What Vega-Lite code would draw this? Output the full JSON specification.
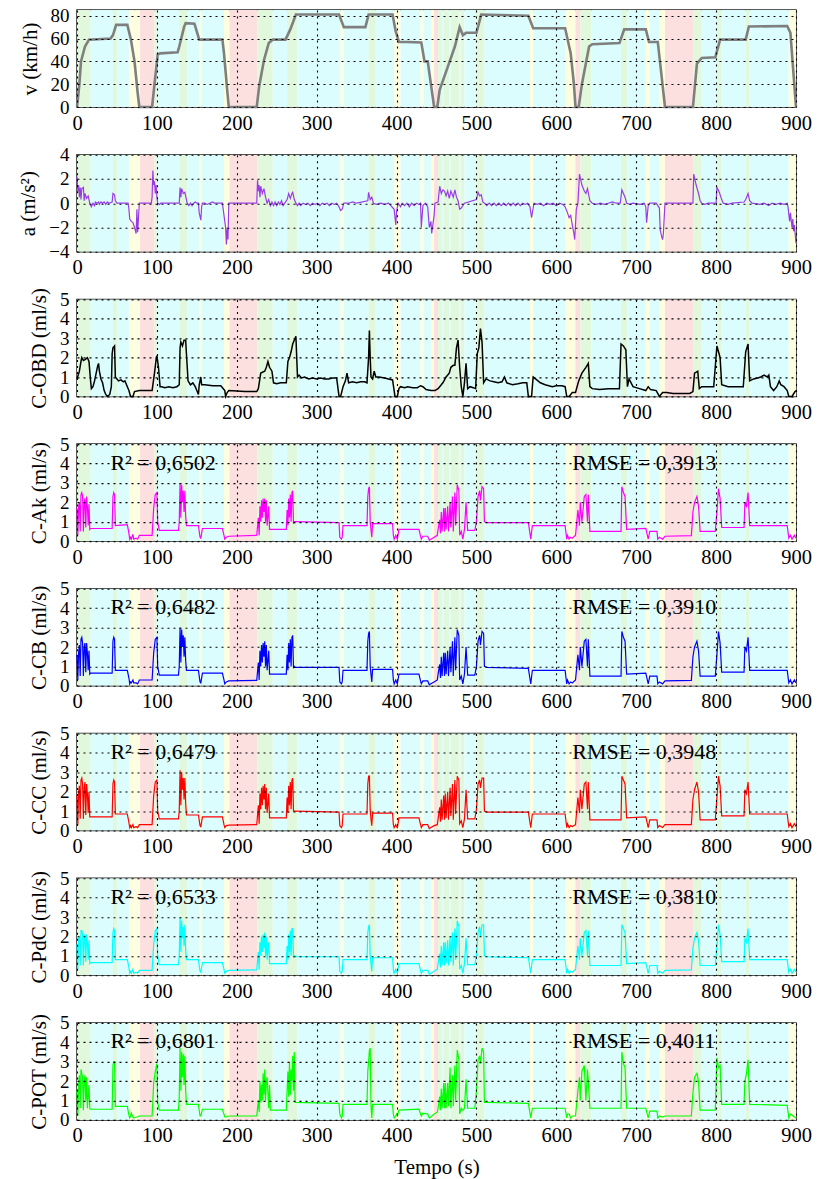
{
"$schema":"https://vega.github.io/schema/vega-lite/v6.json",
"padding":{"left":17,"top":5,"right":5,"bottom":5},
"background":"white",
"config":{
 "font":"Liberation Serif",
 "view":{"stroke":"#222","strokeWidth":1.5},
 "axis":{"labelFont":"Liberation Serif","labelFontSize":20.5,"labelColor":"#000","titleFont":"Liberation Serif","titleFontSize":21,"titleFontWeight":"normal","titleColor":"#000","grid":true,"gridColor":"#000","gridDash":[2,4],"gridOpacity":1,"gridWidth":1.1,"domain":false,"ticks":false,"zindex":1,"labelPadding":8,"titlePadding":10,"labelFlush":false,"labelOverlap":false},
 "axisX":{"labelPadding":6},
 "axisY":{"labelFontSize":19}
},
"bounds":"flush",
"spacing":47.7,
"datasets":{
"bands":[
{"t0":0,"t1":17,"m":"ac"},{"t0":17,"t1":45,"m":"cr"},{"t0":45,"t1":50,"m":"ac"},{"t0":50,"t1":65,"m":"cr"},{"t0":65,"t1":72,"m":"de"},{"t0":72,"t1":79,"m":"de"},{"t0":79,"t1":97,"m":"pa"},{"t0":97,"t1":100,"m":"ac"},{"t0":100,"t1":128,"m":"cr"},{"t0":128,"t1":138,"m":"ac"},{"t0":138,"t1":153,"m":"cr"},{"t0":153,"t1":156,"m":"de"},{"t0":156,"t1":184,"m":"cr"},{"t0":184,"t1":191,"m":"de"},{"t0":191,"t1":226,"m":"pa"},{"t0":226,"t1":245,"m":"ac"},{"t0":245,"t1":263,"m":"cr"},{"t0":263,"t1":276,"m":"ac"},{"t0":276,"t1":330,"m":"cr"},{"t0":330,"t1":334,"m":"de"},{"t0":334,"t1":365,"m":"cr"},{"t0":365,"t1":374,"m":"ac"},{"t0":374,"t1":397,"m":"cr"},{"t0":397,"t1":405,"m":"de"},{"t0":405,"t1":430,"m":"cr"},{"t0":430,"t1":434,"m":"de"},{"t0":434,"t1":443,"m":"cr"},{"t0":443,"t1":447,"m":"de"},{"t0":447,"t1":452,"m":"pa"},{"t0":452,"t1":457,"m":"ac"},{"t0":457,"t1":459,"m":"cr"},{"t0":459,"t1":466,"m":"ac"},{"t0":466,"t1":468,"m":"cr"},{"t0":468,"t1":478,"m":"ac"},{"t0":478,"t1":480,"m":"cr"},{"t0":480,"t1":485,"m":"ac"},{"t0":485,"t1":500,"m":"cr"},{"t0":500,"t1":510,"m":"ac"},{"t0":510,"t1":567,"m":"cr"},{"t0":567,"t1":571,"m":"de"},{"t0":571,"t1":611,"m":"cr"},{"t0":611,"t1":624,"m":"de"},{"t0":624,"t1":630,"m":"pa"},{"t0":630,"t1":644,"m":"ac"},{"t0":644,"t1":681,"m":"cr"},{"t0":681,"t1":689,"m":"ac"},{"t0":689,"t1":712,"m":"cr"},{"t0":712,"t1":717,"m":"de"},{"t0":717,"t1":729,"m":"cr"},{"t0":729,"t1":736,"m":"de"},{"t0":736,"t1":771,"m":"pa"},{"t0":771,"t1":782,"m":"ac"},{"t0":782,"t1":801,"m":"cr"},{"t0":801,"t1":807,"m":"ac"},{"t0":807,"t1":837,"m":"cr"},{"t0":837,"t1":842,"m":"ac"},{"t0":842,"t1":891,"m":"cr"},{"t0":891,"t1":900,"m":"de"}
],
"vel":[
{"t":0,"v":0},{"t":3,"v":20},{"t":5,"v":40},{"t":10,"v":53},{"t":15,"v":59},{"t":42,"v":60},{"t":45,"v":63},{"t":49,"v":72},{"t":63,"v":72},{"t":67.5,"v":59},{"t":72,"v":40},{"t":76,"v":12},{"t":78,"v":0},{"t":94,"v":0},{"t":97,"v":20},{"t":101,"v":46},{"t":104,"v":47},{"t":126,"v":48},{"t":128,"v":53},{"t":134,"v":70},{"t":136,"v":73.5},{"t":147,"v":73},{"t":153,"v":59},{"t":182,"v":59},{"t":184,"v":47},{"t":188,"v":15},{"t":190,"v":0},{"t":225,"v":0},{"t":228,"v":18},{"t":234,"v":41},{"t":240,"v":56},{"t":245,"v":59},{"t":261,"v":59},{"t":267,"v":68},{"t":274,"v":81},{"t":328,"v":81},{"t":334,"v":70},{"t":361,"v":70},{"t":365,"v":81},{"t":395,"v":81},{"t":399,"v":66},{"t":403,"v":57},{"t":414,"v":57},{"t":431,"v":56.5},{"t":435,"v":40},{"t":439,"v":40},{"t":443,"v":20},{"t":447,"v":0},{"t":451,"v":0},{"t":454,"v":15},{"t":464,"v":35},{"t":473,"v":53},{"t":479,"v":70},{"t":483,"v":63},{"t":487,"v":65},{"t":500,"v":65},{"t":506,"v":81},{"t":565,"v":80},{"t":571,"v":69},{"t":611,"v":69},{"t":618,"v":47},{"t":622,"v":20},{"t":624,"v":0},{"t":628,"v":0},{"t":632,"v":20},{"t":641,"v":53},{"t":645,"v":55},{"t":679,"v":56},{"t":685,"v":68},{"t":712,"v":68},{"t":716,"v":57},{"t":727,"v":57},{"t":736,"v":0},{"t":771,"v":0},{"t":776,"v":38},{"t":782,"v":43},{"t":799,"v":43.5},{"t":805,"v":59},{"t":837,"v":59},{"t":841,"v":70.5},{"t":889,"v":71},{"t":893,"v":65},{"t":900,"v":0}
],
"acc":[
{"t":0,"a":2.2},{"t":1,"a":1.0},{"t":2,"a":1.5},{"t":3,"a":0.5},{"t":4,"a":1.3},{"t":5,"a":0.3},{"t":6,"a":1.2},{"t":8,"a":1.3},{"t":9,"a":0.2},{"t":10,"a":0.8},{"t":12,"a":0.4},{"t":14,"a":0.6},{"t":16,"a":0},{"t":18,"a":-0.3},{"t":20,"a":0},{"t":22,"a":-0.2},{"t":23,"a":0.1},{"t":25,"a":0},{"t":27,"a":0.1},{"t":28,"a":-0.1},{"t":30,"a":0.1},{"t":32,"a":0},{"t":34,"a":0.1},{"t":36,"a":-0.1},{"t":38,"a":0.1},{"t":40,"a":0},{"t":44,"a":0.1},{"t":45,"a":0.8},{"t":47,"a":0.7},{"t":48,"a":0.2},{"t":50,"a":0},{"t":64,"a":0},{"t":65,"a":-0.5},{"t":66,"a":-1.3},{"t":68,"a":-1.5},{"t":70,"a":-1.6},{"t":72,"a":-2.0},{"t":74,"a":-2.5},{"t":75,"a":-0.5},{"t":76,"a":-2.4},{"t":78,"a":0},{"t":93,"a":0},{"t":94,"a":0.5},{"t":95,"a":2.7},{"t":96,"a":1.5},{"t":97,"a":1.8},{"t":98,"a":0.8},{"t":99,"a":1.5},{"t":100,"a":0.5},{"t":101,"a":0},{"t":103,"a":-0.1},{"t":105,"a":0},{"t":128,"a":0},{"t":129,"a":1.3},{"t":130,"a":0.5},{"t":131,"a":1.2},{"t":133,"a":0.8},{"t":135,"a":0.9},{"t":137,"a":0.3},{"t":138,"a":0},{"t":140,"a":-0.2},{"t":142,"a":0},{"t":144,"a":-0.2},{"t":146,"a":0},{"t":148,"a":0.1},{"t":150,"a":0},{"t":152,"a":0},{"t":153,"a":-0.8},{"t":155,"a":-1.4},{"t":156,"a":-0.3},{"t":157,"a":0},{"t":160,"a":0},{"t":163,"a":-0.1},{"t":166,"a":0},{"t":170,"a":0.1},{"t":172,"a":0},{"t":182,"a":0},{"t":183,"a":-0.5},{"t":185,"a":-1.5},{"t":186,"a":-2.0},{"t":187,"a":-3.4},{"t":188,"a":-2.0},{"t":189,"a":-3.0},{"t":190,"a":0},{"t":225,"a":0},{"t":226,"a":1.9},{"t":227,"a":1.0},{"t":228,"a":1.5},{"t":229,"a":0.5},{"t":230,"a":1.4},{"t":232,"a":0.8},{"t":234,"a":1.2},{"t":236,"a":0.5},{"t":238,"a":0},{"t":240,"a":0.3},{"t":242,"a":-0.2},{"t":244,"a":0.1},{"t":246,"a":-0.2},{"t":248,"a":0.1},{"t":250,"a":-0.2},{"t":252,"a":0.1},{"t":254,"a":-0.1},{"t":256,"a":0.2},{"t":258,"a":-0.2},{"t":260,"a":0},{"t":263,"a":0.3},{"t":265,"a":0.8},{"t":267,"a":0.4},{"t":269,"a":0.8},{"t":270,"a":0.9},{"t":272,"a":0.3},{"t":274,"a":0},{"t":276,"a":-0.2},{"t":278,"a":0},{"t":280,"a":-0.2},{"t":283,"a":0},{"t":286,"a":-0.1},{"t":289,"a":0},{"t":292,"a":-0.2},{"t":295,"a":0},{"t":298,"a":-0.1},{"t":301,"a":0},{"t":304,"a":-0.2},{"t":307,"a":0},{"t":310,"a":-0.1},{"t":313,"a":0},{"t":316,"a":-0.2},{"t":319,"a":0},{"t":322,"a":-0.1},{"t":325,"a":0},{"t":328,"a":-0.3},{"t":330,"a":-0.6},{"t":332,"a":-0.5},{"t":334,"a":0},{"t":340,"a":0},{"t":345,"a":0.1},{"t":350,"a":0},{"t":364,"a":0.2},{"t":365,"a":0.9},{"t":367,"a":0.3},{"t":369,"a":0.5},{"t":371,"a":0},{"t":375,"a":-0.1},{"t":380,"a":0},{"t":385,"a":-0.1},{"t":390,"a":0},{"t":397,"a":-0.5},{"t":399,"a":-1.8},{"t":400,"a":-0.7},{"t":402,"a":0},{"t":405,"a":-0.3},{"t":407,"a":0},{"t":410,"a":-0.2},{"t":413,"a":0},{"t":416,"a":-0.3},{"t":419,"a":0},{"t":422,"a":-0.2},{"t":425,"a":0},{"t":428,"a":-0.1},{"t":430,"a":0},{"t":431,"a":-2.0},{"t":433,"a":-0.2},{"t":436,"a":0},{"t":439,"a":-0.3},{"t":441,"a":-2.0},{"t":443,"a":-1.5},{"t":444,"a":-2.5},{"t":447,"a":-1.0},{"t":448,"a":0},{"t":452,"a":0.1},{"t":454,"a":1.4},{"t":456,"a":0.8},{"t":458,"a":1.1},{"t":460,"a":1.0},{"t":462,"a":0.6},{"t":464,"a":1.0},{"t":466,"a":0.4},{"t":468,"a":1.0},{"t":471,"a":0.5},{"t":473,"a":1.1},{"t":475,"a":0.5},{"t":477,"a":0.2},{"t":479,"a":-0.5},{"t":481,"a":-0.4},{"t":483,"a":-0.2},{"t":485,"a":0},{"t":500,"a":0.3},{"t":502,"a":0.9},{"t":504,"a":0.6},{"t":506,"a":0.7},{"t":508,"a":0.1},{"t":510,"a":0},{"t":513,"a":-0.2},{"t":516,"a":0},{"t":519,"a":-0.2},{"t":522,"a":0},{"t":525,"a":-0.2},{"t":528,"a":0},{"t":531,"a":-0.2},{"t":534,"a":0},{"t":537,"a":-0.2},{"t":540,"a":0},{"t":543,"a":-0.2},{"t":546,"a":0},{"t":549,"a":-0.2},{"t":552,"a":0},{"t":555,"a":-0.2},{"t":558,"a":0},{"t":561,"a":-0.1},{"t":564,"a":0},{"t":567,"a":-0.3},{"t":569,"a":-1.2},{"t":572,"a":0},{"t":576,"a":-0.1},{"t":580,"a":0},{"t":584,"a":-0.2},{"t":588,"a":0},{"t":592,"a":-0.1},{"t":596,"a":0},{"t":600,"a":-0.2},{"t":604,"a":0},{"t":608,"a":-0.1},{"t":611,"a":-0.3},{"t":614,"a":-0.8},{"t":616,"a":-1.2},{"t":618,"a":-1.0},{"t":620,"a":-1.8},{"t":622,"a":-2.5},{"t":623,"a":-3.0},{"t":625,"a":-0.5},{"t":627,"a":0},{"t":629,"a":2.4},{"t":632,"a":1.5},{"t":635,"a":1.0},{"t":637,"a":0.8},{"t":639,"a":1.2},{"t":642,"a":0.2},{"t":645,"a":0},{"t":650,"a":-0.1},{"t":655,"a":0},{"t":660,"a":-0.1},{"t":665,"a":0},{"t":670,"a":0.1},{"t":675,"a":0},{"t":680,"a":0},{"t":682,"a":1.1},{"t":684,"a":0.8},{"t":686,"a":0.5},{"t":688,"a":0},{"t":692,"a":-0.1},{"t":696,"a":0},{"t":705,"a":-0.1},{"t":710,"a":0},{"t":712,"a":-0.3},{"t":713,"a":-1.6},{"t":715,"a":-0.2},{"t":717,"a":0},{"t":725,"a":0},{"t":729,"a":-0.4},{"t":730,"a":-2.2},{"t":732,"a":-2.8},{"t":733,"a":-3.0},{"t":734,"a":-2.5},{"t":736,"a":0},{"t":771,"a":0},{"t":772,"a":2.4},{"t":775,"a":1.5},{"t":778,"a":0.8},{"t":780,"a":0.2},{"t":782,"a":0},{"t":786,"a":-0.1},{"t":790,"a":0},{"t":800,"a":0},{"t":801,"a":1.3},{"t":804,"a":0.9},{"t":807,"a":0.3},{"t":809,"a":0},{"t":815,"a":-0.1},{"t":820,"a":0},{"t":835,"a":0.1},{"t":837,"a":0.3},{"t":840,"a":0.8},{"t":842,"a":0.2},{"t":845,"a":0},{"t":855,"a":-0.1},{"t":860,"a":0},{"t":866,"a":-0.2},{"t":870,"a":0},{"t":875,"a":-0.1},{"t":880,"a":0},{"t":885,"a":-0.1},{"t":889,"a":0},{"t":890,"a":-0.3},{"t":892,"a":-1.5},{"t":893,"a":-0.8},{"t":895,"a":-2.0},{"t":896,"a":-1.3},{"t":897,"a":-2.3},{"t":898,"a":-1.8},{"t":900,"a":-3.3}
],
"obd":[
{"t":0,"c":0.9},{"t":3,"c":1.3},{"t":5,"c":1.8},{"t":6,"c":2.0},{"t":8,"c":1.85},{"t":10,"c":1.9},{"t":13,"c":2.0},{"t":15,"c":1.8},{"t":17,"c":0.8},{"t":18,"c":0.4},{"t":20,"c":0.5},{"t":22,"c":0.8},{"t":24,"c":1.2},{"t":26,"c":1.6},{"t":27,"c":1.7},{"t":28,"c":1.3},{"t":30,"c":0.9},{"t":32,"c":0.7},{"t":34,"c":0.3},{"t":36,"c":0.1},{"t":38,"c":0.0},{"t":41,"c":0.1},{"t":43,"c":0.5},{"t":44,"c":2.2},{"t":45,"c":2.5},{"t":47,"c":2.6},{"t":48,"c":1.0},{"t":50,"c":0.9},{"t":52,"c":0.8},{"t":55,"c":0.85},{"t":58,"c":0.75},{"t":60,"c":0.8},{"t":63,"c":0.5},{"t":65,"c":0.3},{"t":67,"c":0.0},{"t":70,"c":0.0},{"t":72,"c":0.25},{"t":78,"c":0.3},{"t":94,"c":0.3},{"t":97,"c":1.2},{"t":99,"c":1.9},{"t":100,"c":2.1},{"t":102,"c":1.5},{"t":104,"c":0.5},{"t":106,"c":0.5},{"t":110,"c":0.45},{"t":115,"c":0.5},{"t":120,"c":0.45},{"t":125,"c":0.5},{"t":128,"c":0.6},{"t":129,"c":2.5},{"t":130,"c":2.8},{"t":132,"c":2.6},{"t":134,"c":2.9},{"t":136,"c":2.9},{"t":138,"c":1.5},{"t":139,"c":0.8},{"t":142,"c":0.6},{"t":145,"c":0.7},{"t":148,"c":0.5},{"t":150,"c":0.3},{"t":152,"c":0.1},{"t":153,"c":0.6},{"t":155,"c":1.0},{"t":156,"c":0.6},{"t":160,"c":0.6},{"t":170,"c":0.55},{"t":180,"c":0.55},{"t":185,"c":0.3},{"t":186,"c":0.0},{"t":188,"c":0.2},{"t":190,"c":0.3},{"t":200,"c":0.28},{"t":210,"c":0.25},{"t":225,"c":0.25},{"t":227,"c":0.4},{"t":230,"c":1.2},{"t":235,"c":1.3},{"t":237,"c":1.5},{"t":239,"c":1.8},{"t":241,"c":1.5},{"t":244,"c":1.3},{"t":246,"c":0.7},{"t":250,"c":0.65},{"t":255,"c":0.7},{"t":262,"c":0.7},{"t":264,"c":1.8},{"t":266,"c":2.0},{"t":268,"c":2.3},{"t":270,"c":2.7},{"t":273,"c":3.0},{"t":274,"c":3.1},{"t":276,"c":1.0},{"t":278,"c":1.1},{"t":281,"c":0.95},{"t":285,"c":1.0},{"t":290,"c":0.9},{"t":295,"c":0.95},{"t":300,"c":0.9},{"t":305,"c":0.95},{"t":310,"c":0.9},{"t":315,"c":0.9},{"t":320,"c":0.95},{"t":325,"c":0.95},{"t":328,"c":0.0},{"t":330,"c":0.0},{"t":333,"c":0.5},{"t":336,"c":0.8},{"t":338,"c":1.2},{"t":340,"c":0.7},{"t":345,"c":0.75},{"t":350,"c":0.7},{"t":355,"c":0.75},{"t":360,"c":0.75},{"t":363,"c":0.7},{"t":365,"c":2.0},{"t":366,"c":3.4},{"t":367,"c":2.0},{"t":368,"c":1.0},{"t":370,"c":0.9},{"t":372,"c":1.3},{"t":374,"c":1.0},{"t":378,"c":1.0},{"t":385,"c":0.95},{"t":390,"c":0.9},{"t":395,"c":0.85},{"t":397,"c":0.3},{"t":398,"c":0.0},{"t":401,"c":0.0},{"t":403,"c":0.4},{"t":405,"c":0.5},{"t":410,"c":0.45},{"t":414,"c":0.5},{"t":420,"c":0.45},{"t":426,"c":0.45},{"t":430,"c":0.55},{"t":433,"c":0.5},{"t":437,"c":0.35},{"t":443,"c":0.3},{"t":448,"c":0.3},{"t":452,"c":0.4},{"t":456,"c":0.6},{"t":458,"c":0.7},{"t":462,"c":1.0},{"t":466,"c":1.2},{"t":468,"c":1.5},{"t":471,"c":1.6},{"t":473,"c":1.6},{"t":475,"c":2.5},{"t":477,"c":2.9},{"t":479,"c":1.5},{"t":481,"c":0.5},{"t":483,"c":0.0},{"t":485,"c":0.7},{"t":487,"c":1.7},{"t":489,"c":0.4},{"t":492,"c":0.5},{"t":496,"c":0.45},{"t":499,"c":0.4},{"t":501,"c":2.2},{"t":503,"c":2.5},{"t":505,"c":3.5},{"t":507,"c":2.8},{"t":509,"c":0.7},{"t":512,"c":0.9},{"t":517,"c":0.8},{"t":522,"c":0.75},{"t":527,"c":0.7},{"t":532,"c":0.75},{"t":535,"c":1.0},{"t":538,"c":0.7},{"t":545,"c":0.6},{"t":552,"c":0.65},{"t":558,"c":0.7},{"t":563,"c":0.7},{"t":565,"c":0.0},{"t":569,"c":0.0},{"t":571,"c":1.0},{"t":574,"c":0.9},{"t":580,"c":0.7},{"t":586,"c":0.6},{"t":595,"c":0.5},{"t":600,"c":0.55},{"t":607,"c":0.55},{"t":611,"c":0.5},{"t":613,"c":0.0},{"t":616,"c":0.0},{"t":620,"c":0.2},{"t":624,"c":0.2},{"t":628,"c":0.8},{"t":632,"c":1.2},{"t":637,"c":1.5},{"t":640,"c":1.7},{"t":642,"c":0.5},{"t":645,"c":0.4},{"t":654,"c":0.35},{"t":665,"c":0.4},{"t":679,"c":0.4},{"t":681,"c":2.7},{"t":684,"c":2.6},{"t":687,"c":2.4},{"t":689,"c":0.5},{"t":691,"c":0.9},{"t":696,"c":0.5},{"t":704,"c":0.4},{"t":712,"c":0.3},{"t":715,"c":0.5},{"t":718,"c":0.35},{"t":725,"c":0.3},{"t":729,"c":0.0},{"t":733,"c":0.2},{"t":738,"c":0.2},{"t":746,"c":0.15},{"t":760,"c":0.15},{"t":767,"c":0.15},{"t":771,"c":0.25},{"t":773,"c":1.2},{"t":777,"c":1.3},{"t":779,"c":0.4},{"t":782,"c":0.5},{"t":790,"c":0.5},{"t":797,"c":0.5},{"t":801,"c":2.6},{"t":803,"c":2.3},{"t":805,"c":2.0},{"t":807,"c":0.6},{"t":815,"c":0.5},{"t":822,"c":0.5},{"t":830,"c":0.5},{"t":834,"c":0.5},{"t":837,"c":2.3},{"t":840,"c":2.7},{"t":842,"c":0.8},{"t":847,"c":0.9},{"t":852,"c":0.95},{"t":856,"c":1.0},{"t":860,"c":1.1},{"t":864,"c":1.0},{"t":866,"c":1.1},{"t":868,"c":0.5},{"t":872,"c":0.3},{"t":876,"c":0.5},{"t":879,"c":0.8},{"t":881,"c":0.6},{"t":885,"c":0.5},{"t":889,"c":0.3},{"t":891,"c":0.0},{"t":895,"c":0.0},{"t":898,"c":0.2},{"t":900,"c":0.3}
],
"mod":[
{"t":0,"ak":1.7,"cb":1.6,"cc":1.8,"pdc":1.6,"pot":1.5},
{"t":1,"ak":0.3,"cb":0.3,"cc":0.3,"pdc":0.3,"pot":0.2},
{"t":2,"ak":1.8,"cb":1.7,"cc":2.0,"pdc":1.9,"pot":1.8},
{"t":3,"ak":2.0,"cb":2.1,"cc":2.3,"pdc":2.0,"pot":2.3},
{"t":4,"ak":0.5,"cb":0.5,"cc":0.6,"pdc":0.5,"pot":0.6},
{"t":5,"ak":2.4,"cb":2.4,"cc":2.6,"pdc":2.3,"pot":2.6},
{"t":6,"ak":2.5,"cb":2.5,"cc":2.7,"pdc":2.3,"pot":2.4},
{"t":7,"ak":2.3,"cb":2.2,"cc":2.4,"pdc":2.1,"pot":2.2},
{"t":8,"ak":0.5,"cb":0.5,"cc":0.6,"pdc":0.5,"pot":0.5},
{"t":9,"ak":2.0,"cb":2.0,"cc":2.2,"pdc":1.9,"pot":2.0},
{"t":10,"ak":2.2,"cb":2.2,"cc":2.5,"pdc":2.1,"pot":2.3},
{"t":11,"ak":0.7,"cb":0.7,"cc":0.8,"pdc":0.7,"pot":1.0},
{"t":12,"ak":2.3,"cb":2.2,"cc":2.4,"pdc":2.1,"pot":2.2},
{"t":13,"ak":1.8,"cb":1.7,"cc":1.9,"pdc":1.7,"pot":0.6},
{"t":14,"ak":0.8,"cb":0.8,"cc":0.9,"pdc":0.8,"pot":1.2},
{"t":15,"ak":1.9,"cb":1.8,"cc":2.0,"pdc":1.8,"pot":1.8},
{"t":16,"ak":0.6,"cb":0.6,"cc":0.7,"pdc":0.6,"pot":0.6},
{"t":17,"ak":0.65,"cb":0.65,"cc":0.7,"pdc":0.65,"pot":0.55},
{"t":44,"ak":0.65,"cb":0.65,"cc":0.7,"pdc":0.65,"pot":0.55},
{"t":45,"ak":2.3,"cb":2.3,"cc":2.4,"pdc":2.2,"pot":2.8},
{"t":46,"ak":2.5,"cb":2.5,"cc":2.6,"pdc":2.4,"pot":3.0},
{"t":47,"ak":2.4,"cb":2.4,"cc":2.5,"pdc":2.3,"pot":3.0},
{"t":48,"ak":0.8,"cb":0.8,"cc":0.85,"pdc":0.8,"pot":0.7},
{"t":63,"ak":0.85,"cb":0.8,"cc":0.85,"pdc":0.8,"pot":0.7},
{"t":65,"ak":0.4,"cb":0.4,"cc":0.4,"pdc":0.4,"pot":0.25},
{"t":66,"ak":0.1,"cb":0.1,"cc":0.15,"pdc":0.1,"pot":0.1},
{"t":67,"ak":0.2,"cb":0.2,"cc":0.25,"pdc":0.2,"pot":0.2},
{"t":68,"ak":0.1,"cb":0.15,"cc":0.15,"pdc":0.1,"pot":0.35},
{"t":70,"ak":0.35,"cb":0.3,"cc":0.3,"pdc":0.3,"pot":0.15},
{"t":71,"ak":0.1,"cb":0.15,"cc":0.15,"pdc":0.1,"pot":0.1},
{"t":74,"ak":0.15,"cb":0.15,"cc":0.2,"pdc":0.15,"pot":0.15},
{"t":76,"ak":0.1,"cb":0.1,"cc":0.15,"pdc":0.1,"pot":0.15},
{"t":78,"ak":0.3,"cb":0.3,"cc":0.3,"pdc":0.25,"pot":0.2},
{"t":94,"ak":0.3,"cb":0.3,"cc":0.3,"pdc":0.25,"pot":0.2},
{"t":96,"ak":1.7,"cb":1.7,"cc":1.8,"pdc":1.6,"pot":1.9},
{"t":98,"ak":2.4,"cb":2.4,"cc":2.5,"pdc":2.3,"pot":2.5},
{"t":100,"ak":2.5,"cb":2.5,"cc":2.6,"pdc":2.4,"pot":2.9},
{"t":101,"ak":1.0,"cb":1.0,"cc":1.0,"pdc":1.0,"pot":0.9},
{"t":103,"ak":0.55,"cb":0.55,"cc":0.6,"pdc":0.55,"pot":0.5},
{"t":127,"ak":0.55,"cb":0.55,"cc":0.6,"pdc":0.55,"pot":0.5},
{"t":128,"ak":1.0,"cb":1.0,"cc":1.0,"pdc":1.0,"pot":1.2},
{"t":129,"ak":3.0,"cb":3.0,"cc":3.1,"pdc":3.0,"pot":3.7},
{"t":130,"ak":1.2,"cb":1.2,"cc":1.3,"pdc":1.2,"pot":1.5},
{"t":131,"ak":2.9,"cb":2.9,"cc":3.0,"pdc":2.8,"pot":3.5},
{"t":132,"ak":2.0,"cb":2.0,"cc":2.1,"pdc":1.9,"pot":2.2},
{"t":133,"ak":2.6,"cb":2.6,"cc":2.7,"pdc":2.5,"pot":3.4},
{"t":134,"ak":1.5,"cb":1.5,"cc":1.6,"pdc":1.5,"pot":1.8},
{"t":135,"ak":2.6,"cb":2.5,"cc":2.7,"pdc":2.6,"pot":3.3},
{"t":136,"ak":1.3,"cb":1.3,"cc":1.4,"pdc":1.3,"pot":1.5},
{"t":137,"ak":0.8,"cb":0.8,"cc":0.8,"pdc":0.8,"pot":0.8},
{"t":152,"ak":0.8,"cb":0.8,"cc":0.8,"pdc":0.8,"pot":0.8},
{"t":154,"ak":0.2,"cb":0.2,"cc":0.25,"pdc":0.2,"pot":0.2},
{"t":155,"ak":0.15,"cb":0.15,"cc":0.2,"pdc":0.15,"pot":0.2},
{"t":157,"ak":0.65,"cb":0.65,"cc":0.7,"pdc":0.65,"pot":0.55},
{"t":182,"ak":0.65,"cb":0.65,"cc":0.7,"pdc":0.65,"pot":0.55},
{"t":184,"ak":0.3,"cb":0.3,"cc":0.3,"pdc":0.3,"pot":0.3},
{"t":185,"ak":0.1,"cb":0.1,"cc":0.15,"pdc":0.1,"pot":0.15},
{"t":187,"ak":0.2,"cb":0.2,"cc":0.25,"pdc":0.2,"pot":0.15},
{"t":190,"ak":0.25,"cb":0.25,"cc":0.28,"pdc":0.25,"pot":0.2},
{"t":225,"ak":0.3,"cb":0.28,"cc":0.3,"pdc":0.27,"pot":0.2},
{"t":227,"ak":1.2,"cb":1.2,"cc":1.3,"pdc":1.2,"pot":1.0},
{"t":228,"ak":0.3,"cb":0.3,"cc":0.35,"pdc":0.3,"pot":0.4},
{"t":229,"ak":1.8,"cb":1.8,"cc":1.9,"pdc":1.7,"pot":2.0},
{"t":230,"ak":1.0,"cb":1.0,"cc":1.1,"pdc":1.0,"pot":0.9},
{"t":231,"ak":2.1,"cb":2.1,"cc":2.2,"pdc":2.0,"pot":1.8},
{"t":232,"ak":1.2,"cb":1.2,"cc":1.3,"pdc":1.2,"pot":1.0},
{"t":233,"ak":2.2,"cb":2.2,"cc":2.3,"pdc":2.1,"pot":2.4},
{"t":234,"ak":1.5,"cb":1.5,"cc":1.6,"pdc":1.4,"pot":1.3},
{"t":235,"ak":2.2,"cb":2.3,"cc":2.4,"pdc":2.2,"pot":2.6},
{"t":236,"ak":1.0,"cb":1.0,"cc":1.1,"pdc":1.0,"pot":1.0},
{"t":237,"ak":2.1,"cb":2.1,"cc":2.2,"pdc":2.0,"pot":2.0},
{"t":238,"ak":0.8,"cb":0.8,"cc":0.9,"pdc":0.8,"pot":2.2},
{"t":240,"ak":1.8,"cb":1.8,"cc":1.9,"pdc":1.7,"pot":0.6},
{"t":241,"ak":0.6,"cb":0.6,"cc":0.65,"pdc":0.6,"pot":1.8},
{"t":242,"ak":0.6,"cb":0.6,"cc":0.65,"pdc":0.6,"pot":0.5},
{"t":262,"ak":0.6,"cb":0.6,"cc":0.65,"pdc":0.6,"pot":0.5},
{"t":263,"ak":1.6,"cb":1.6,"cc":1.7,"pdc":1.5,"pot":1.5},
{"t":264,"ak":0.8,"cb":0.8,"cc":0.9,"pdc":0.8,"pot":2.5},
{"t":265,"ak":2.2,"cb":2.2,"cc":2.3,"pdc":2.1,"pot":1.2},
{"t":266,"ak":1.2,"cb":1.2,"cc":1.3,"pdc":1.2,"pot":3.0},
{"t":267,"ak":2.4,"cb":2.4,"cc":2.5,"pdc":2.3,"pot":1.3},
{"t":268,"ak":1.0,"cb":1.0,"cc":1.1,"pdc":1.0,"pot":2.6},
{"t":269,"ak":2.5,"cb":2.5,"cc":2.6,"pdc":2.4,"pot":2.0},
{"t":270,"ak":2.6,"cb":2.6,"cc":2.7,"pdc":2.4,"pot":3.3},
{"t":271,"ak":0.9,"cb":0.9,"cc":1.0,"pdc":0.9,"pot":1.5},
{"t":272,"ak":1.0,"cb":1.0,"cc":1.0,"pdc":1.0,"pot":3.5},
{"t":273,"ak":1.0,"cb":0.95,"cc":1.0,"pdc":0.95,"pot":0.9},
{"t":328,"ak":0.95,"cb":0.95,"cc":0.95,"pdc":0.95,"pot":0.85},
{"t":329,"ak":0.2,"cb":0.2,"cc":0.25,"pdc":0.2,"pot":0.3},
{"t":331,"ak":0.1,"cb":0.1,"cc":0.15,"pdc":0.1,"pot":0.1},
{"t":332,"ak":0.2,"cb":0.2,"cc":0.25,"pdc":0.2,"pot":0.2},
{"t":333,"ak":0.8,"cb":0.8,"cc":0.85,"pdc":0.8,"pot":0.8},
{"t":363,"ak":0.8,"cb":0.8,"cc":0.85,"pdc":0.8,"pot":0.8},
{"t":364,"ak":2.3,"cb":2.3,"cc":2.4,"pdc":2.2,"pot":2.5},
{"t":365,"ak":2.7,"cb":2.7,"cc":2.8,"pdc":2.5,"pot":3.0},
{"t":366,"ak":2.8,"cb":2.8,"cc":2.8,"pdc":2.6,"pot":3.6},
{"t":367,"ak":1.0,"cb":1.0,"cc":1.1,"pdc":1.0,"pot":3.7},
{"t":368,"ak":0.6,"cb":0.6,"cc":0.6,"pdc":0.6,"pot":0.8},
{"t":369,"ak":0.2,"cb":0.2,"cc":0.25,"pdc":0.2,"pot":0.1},
{"t":370,"ak":0.9,"cb":0.85,"cc":0.9,"pdc":0.9,"pot":0.8},
{"t":395,"ak":0.9,"cb":0.85,"cc":0.9,"pdc":0.9,"pot":0.8},
{"t":396,"ak":0.3,"cb":0.3,"cc":0.3,"pdc":0.3,"pot":0.3},
{"t":397,"ak":0.1,"cb":0.1,"cc":0.15,"pdc":0.1,"pot":0.1},
{"t":399,"ak":0.3,"cb":0.3,"cc":0.3,"pdc":0.3,"pot":0.2},
{"t":400,"ak":0.2,"cb":0.2,"cc":0.2,"pdc":0.2,"pot":0.3},
{"t":401,"ak":0.1,"cb":0.1,"cc":0.15,"pdc":0.1,"pot":0.2},
{"t":403,"ak":0.6,"cb":0.6,"cc":0.65,"pdc":0.6,"pot":0.5},
{"t":428,"ak":0.6,"cb":0.6,"cc":0.65,"pdc":0.6,"pot":0.55},
{"t":431,"ak":0.1,"cb":0.1,"cc":0.15,"pdc":0.1,"pot":0.2},
{"t":433,"ak":0.25,"cb":0.25,"cc":0.3,"pdc":0.25,"pot":0.35},
{"t":439,"ak":0.25,"cb":0.25,"cc":0.3,"pdc":0.25,"pot":0.3},
{"t":441,"ak":0.05,"cb":0.05,"cc":0.1,"pdc":0.05,"pot":0.1},
{"t":443,"ak":0.1,"cb":0.1,"cc":0.15,"pdc":0.1,"pot":0.15},
{"t":447,"ak":0.2,"cb":0.2,"cc":0.25,"pdc":0.2,"pot":0.3},
{"t":451,"ak":0.3,"cb":0.3,"cc":0.3,"pdc":0.3,"pot":0.4},
{"t":452,"ak":0.6,"cb":0.6,"cc":0.6,"pdc":0.6,"pot":0.6},
{"t":454,"ak":1.1,"cb":1.1,"cc":1.2,"pdc":1.1,"pot":1.2},
{"t":455,"ak":0.4,"cb":0.4,"cc":0.45,"pdc":0.4,"pot":0.5},
{"t":456,"ak":1.5,"cb":1.5,"cc":1.6,"pdc":1.5,"pot":1.6},
{"t":457,"ak":0.5,"cb":0.5,"cc":0.55,"pdc":0.5,"pot":0.6},
{"t":459,"ak":1.7,"cb":1.7,"cc":1.8,"pdc":1.7,"pot":1.9},
{"t":460,"ak":0.5,"cb":0.5,"cc":0.55,"pdc":0.5,"pot":0.6},
{"t":461,"ak":1.7,"cb":1.7,"cc":1.9,"pdc":1.7,"pot":1.9},
{"t":462,"ak":0.6,"cb":0.6,"cc":0.65,"pdc":0.6,"pot":0.6},
{"t":464,"ak":1.8,"cb":1.8,"cc":2.0,"pdc":1.8,"pot":1.9},
{"t":465,"ak":0.5,"cb":0.5,"cc":0.55,"pdc":0.5,"pot":0.7},
{"t":467,"ak":2.0,"cb":2.0,"cc":2.2,"pdc":2.0,"pot":2.7},
{"t":468,"ak":0.7,"cb":0.7,"cc":0.75,"pdc":0.7,"pot":0.6},
{"t":470,"ak":2.3,"cb":2.3,"cc":2.4,"pdc":2.2,"pot":2.3},
{"t":471,"ak":0.5,"cb":0.5,"cc":0.55,"pdc":0.5,"pot":0.7},
{"t":473,"ak":2.5,"cb":2.5,"cc":2.6,"pdc":2.4,"pot":2.8},
{"t":474,"ak":0.8,"cb":0.8,"cc":0.85,"pdc":0.8,"pot":1.0},
{"t":476,"ak":2.9,"cb":2.9,"cc":2.8,"pdc":2.8,"pot":3.6},
{"t":478,"ak":2.6,"cb":2.6,"cc":2.6,"pdc":2.5,"pot":3.1},
{"t":479,"ak":0.3,"cb":0.3,"cc":0.35,"pdc":0.3,"pot":0.3},
{"t":481,"ak":0.5,"cb":0.5,"cc":0.5,"pdc":0.5,"pot":0.6},
{"t":483,"ak":0.1,"cb":0.1,"cc":0.15,"pdc":0.1,"pot":0.5},
{"t":485,"ak":0.6,"cb":0.6,"cc":0.6,"pdc":0.6,"pot":0.6},
{"t":487,"ak":2.0,"cb":2.0,"cc":2.1,"pdc":1.9,"pot":2.1},
{"t":489,"ak":0.55,"cb":0.55,"cc":0.6,"pdc":0.55,"pot":0.6},
{"t":498,"ak":0.55,"cb":0.55,"cc":0.6,"pdc":0.55,"pot":0.6},
{"t":500,"ak":1.0,"cb":1.0,"cc":1.1,"pdc":1.0,"pot":1.5},
{"t":502,"ak":2.3,"cb":2.3,"cc":2.4,"pdc":2.2,"pot":3.1},
{"t":504,"ak":2.6,"cb":2.6,"cc":2.6,"pdc":2.5,"pot":3.3},
{"t":505,"ak":2.1,"cb":2.1,"cc":2.2,"pdc":2.0,"pot":2.9},
{"t":507,"ak":2.8,"cb":2.8,"cc":2.7,"pdc":2.6,"pot":3.7},
{"t":509,"ak":2.7,"cb":2.7,"cc":2.7,"pdc":2.6,"pot":3.5},
{"t":510,"ak":1.0,"cb":1.0,"cc":1.0,"pdc":1.0,"pot":0.9},
{"t":513,"ak":0.95,"cb":0.95,"cc":0.95,"pdc":0.95,"pot":0.9},
{"t":565,"ak":0.95,"cb":0.9,"cc":0.95,"pdc":0.9,"pot":0.85},
{"t":568,"ak":0.1,"cb":0.1,"cc":0.15,"pdc":0.1,"pot":0.1},
{"t":570,"ak":0.8,"cb":0.8,"cc":0.85,"pdc":0.8,"pot":0.6},
{"t":611,"ak":0.8,"cb":0.8,"cc":0.85,"pdc":0.8,"pot":0.6},
{"t":613,"ak":0.1,"cb":0.1,"cc":0.15,"pdc":0.1,"pot":0.1},
{"t":614,"ak":0.3,"cb":0.3,"cc":0.35,"pdc":0.3,"pot":0.3},
{"t":616,"ak":0.1,"cb":0.1,"cc":0.15,"pdc":0.1,"pot":0.3},
{"t":618,"ak":0.2,"cb":0.2,"cc":0.25,"pdc":0.2,"pot":0.1},
{"t":620,"ak":0.15,"cb":0.15,"cc":0.2,"pdc":0.15,"pot":0.2},
{"t":624,"ak":0.3,"cb":0.3,"cc":0.3,"pdc":0.3,"pot":0.2},
{"t":627,"ak":1.6,"cb":1.6,"cc":1.7,"pdc":1.5,"pot":1.5},
{"t":629,"ak":0.8,"cb":0.8,"cc":0.9,"pdc":0.8,"pot":2.2},
{"t":630,"ak":2.0,"cb":2.0,"cc":2.1,"pdc":1.9,"pot":1.0},
{"t":632,"ak":1.0,"cb":1.0,"cc":1.1,"pdc":1.0,"pot":2.5},
{"t":635,"ak":2.3,"cb":2.3,"cc":2.4,"pdc":2.2,"pot":2.8},
{"t":637,"ak":2.4,"cb":2.4,"cc":2.5,"pdc":2.3,"pot":1.0},
{"t":639,"ak":1.0,"cb":1.0,"cc":1.1,"pdc":1.0,"pot":2.6},
{"t":640,"ak":2.4,"cb":2.4,"cc":2.5,"pdc":2.3,"pot":2.0},
{"t":642,"ak":0.5,"cb":0.5,"cc":0.55,"pdc":0.5,"pot":0.6},
{"t":681,"ak":0.5,"cb":0.5,"cc":0.55,"pdc":0.5,"pot":0.6},
{"t":682,"ak":2.8,"cb":2.8,"cc":2.8,"pdc":2.6,"pot":3.5},
{"t":684,"ak":2.5,"cb":2.5,"cc":2.6,"pdc":2.4,"pot":2.9},
{"t":686,"ak":2.3,"cb":2.3,"cc":2.4,"pdc":2.2,"pot":2.7},
{"t":688,"ak":0.6,"cb":0.6,"cc":0.65,"pdc":0.6,"pot":0.6},
{"t":712,"ak":0.65,"cb":0.65,"cc":0.7,"pdc":0.65,"pot":0.6},
{"t":715,"ak":0.1,"cb":0.1,"cc":0.15,"pdc":0.1,"pot":0.1},
{"t":717,"ak":0.5,"cb":0.5,"cc":0.55,"pdc":0.5,"pot":0.45},
{"t":726,"ak":0.5,"cb":0.5,"cc":0.55,"pdc":0.5,"pot":0.45},
{"t":727,"ak":0.1,"cb":0.1,"cc":0.15,"pdc":0.1,"pot":0.1},
{"t":729,"ak":0.2,"cb":0.2,"cc":0.25,"pdc":0.2,"pot":0.2},
{"t":733,"ak":0.1,"cb":0.1,"cc":0.15,"pdc":0.1,"pot":0.15},
{"t":736,"ak":0.25,"cb":0.25,"cc":0.3,"pdc":0.25,"pot":0.2},
{"t":769,"ak":0.28,"cb":0.28,"cc":0.3,"pdc":0.27,"pot":0.2},
{"t":771,"ak":1.5,"cb":1.5,"cc":1.6,"pdc":1.4,"pot":1.4},
{"t":773,"ak":2.0,"cb":2.0,"cc":2.1,"pdc":1.9,"pot":2.2},
{"t":776,"ak":2.3,"cb":2.3,"cc":2.5,"pdc":2.2,"pot":2.4},
{"t":778,"ak":1.8,"cb":1.8,"cc":2.0,"pdc":1.8,"pot":2.0},
{"t":780,"ak":0.5,"cb":0.5,"cc":0.55,"pdc":0.5,"pot":0.5},
{"t":799,"ak":0.5,"cb":0.5,"cc":0.55,"pdc":0.5,"pot":0.5},
{"t":801,"ak":1.5,"cb":1.6,"cc":1.7,"pdc":1.5,"pot":3.2},
{"t":803,"ak":2.7,"cb":2.8,"cc":2.8,"pdc":2.6,"pot":2.7},
{"t":805,"ak":2.2,"cb":2.2,"cc":2.3,"pdc":2.1,"pot":2.8},
{"t":807,"ak":0.7,"cb":0.7,"cc":0.75,"pdc":0.7,"pot":0.8},
{"t":835,"ak":0.7,"cb":0.7,"cc":0.75,"pdc":0.7,"pot":0.8},
{"t":836,"ak":2.0,"cb":2.0,"cc":2.1,"pdc":1.9,"pot":2.0},
{"t":838,"ak":1.8,"cb":1.8,"cc":1.9,"pdc":1.7,"pot":2.4},
{"t":840,"ak":2.5,"cb":2.5,"cc":2.5,"pdc":2.4,"pot":3.1},
{"t":842,"ak":0.8,"cb":0.8,"cc":0.85,"pdc":0.8,"pot":0.8},
{"t":889,"ak":0.8,"cb":0.8,"cc":0.85,"pdc":0.8,"pot":0.75},
{"t":891,"ak":0.15,"cb":0.15,"cc":0.2,"pdc":0.15,"pot":0.1},
{"t":893,"ak":0.3,"cb":0.3,"cc":0.35,"pdc":0.3,"pot":0.3},
{"t":895,"ak":0.1,"cb":0.1,"cc":0.15,"pdc":0.1,"pot":0.25},
{"t":898,"ak":0.3,"cb":0.3,"cc":0.35,"pdc":0.3,"pot":0.15},
{"t":900,"ak":0.15,"cb":0.15,"cc":0.2,"pdc":0.15,"pot":0.1}
]
},
"vconcat":[
{"width":719,"height":97,"layer":[
 {"data":{"name":"bands"},"mark":{"type":"rect"},"encoding":{"x":{"field":"t0","type":"quantitative","scale":{"domain":[0,900],"nice":false},"axis":{"values":[0,100,200,300,400,500,600,700,800,900],"title":null,"zindex":1}},"x2":{"field":"t1"},"color":{"field":"m","type":"nominal","scale":{"domain":["cr","ac","pa","de"],"range":["#dcfdfd","#e2f8dc","#fce0e0","#fdfde0"]},"legend":null}}},
 {"data":{"name":"vel"},"mark":{"type":"line","color":"#7f7f7f","strokeWidth":2.6},"encoding":{"x":{"field":"t","type":"quantitative","axis":{"title":null,"zindex":1}},"y":{"field":"v","type":"quantitative","scale":{"domain":[0,85],"nice":false},"axis":{"values":[0,20,40,60,80],"title":"v (km/h)","zindex":1}}}}
]},
{"width":719,"height":97,"layer":[
 {"data":{"name":"bands"},"mark":{"type":"rect"},"encoding":{"x":{"field":"t0","type":"quantitative","scale":{"domain":[0,900],"nice":false},"axis":{"values":[0,100,200,300,400,500,600,700,800,900],"title":null,"zindex":1}},"x2":{"field":"t1"},"color":{"field":"m","type":"nominal","scale":{"domain":["cr","ac","pa","de"],"range":["#dcfdfd","#e2f8dc","#fce0e0","#fdfde0"]},"legend":null}}},
 {"data":{"name":"acc"},"mark":{"type":"line","color":"#9a3ce6","strokeWidth":1.2},"encoding":{"x":{"field":"t","type":"quantitative","axis":{"title":null,"zindex":1}},"y":{"field":"a","type":"quantitative","scale":{"domain":[-4,4],"nice":false},"axis":{"values":[-4,-2,0,2,4],"title":"a (m/s²)","zindex":1}}}}
]},
{"width":719,"height":97,"layer":[
 {"data":{"name":"bands"},"mark":{"type":"rect"},"encoding":{"x":{"field":"t0","type":"quantitative","scale":{"domain":[0,900],"nice":false},"axis":{"values":[0,100,200,300,400,500,600,700,800,900],"title":null,"zindex":1}},"x2":{"field":"t1"},"color":{"field":"m","type":"nominal","scale":{"domain":["cr","ac","pa","de"],"range":["#dcfdfd","#e2f8dc","#fce0e0","#fdfde0"]},"legend":null}}},
 {"data":{"name":"obd"},"mark":{"type":"line","color":"#000000","strokeWidth":1.5},"encoding":{"x":{"field":"t","type":"quantitative","axis":{"title":null,"zindex":1}},"y":{"field":"c","type":"quantitative","scale":{"domain":[0,5],"nice":false},"axis":{"values":[0,1,2,3,4,5],"title":"C-OBD (ml/s)","zindex":1}}}}
]},
{"width":719,"height":97,"layer":[
 {"data":{"name":"bands"},"mark":{"type":"rect"},"encoding":{"x":{"field":"t0","type":"quantitative","scale":{"domain":[0,900],"nice":false},"axis":{"values":[0,100,200,300,400,500,600,700,800,900],"title":null,"zindex":1}},"x2":{"field":"t1"},"color":{"field":"m","type":"nominal","scale":{"domain":["cr","ac","pa","de"],"range":["#dcfdfd","#e2f8dc","#fce0e0","#fdfde0"]},"legend":null}}},
 {"data":{"name":"mod"},"mark":{"type":"line","color":"#ff00ff","strokeWidth":1.2},"encoding":{"x":{"field":"t","type":"quantitative","axis":{"title":null,"zindex":1}},"y":{"field":"ak","type":"quantitative","scale":{"domain":[0,5],"nice":false},"axis":{"values":[0,1,2,3,4,5],"title":"C-Ak (ml/s)","zindex":1}}}},
 {"data":{"values":[{}]},"mark":{"type":"text","font":"Liberation Serif","fontSize":22,"align":"left","baseline":"middle","color":"#000"},"encoding":{"x":{"datum":42,"type":"quantitative","axis":{"values":[0,100,200,300,400,500,600,700,800,900],"title":null,"zindex":1}},"y":{"datum":4.05,"type":"quantitative","axis":{"values":[0,1,2,3,4,5],"title":"C-Ak (ml/s)","zindex":1}},"text":{"value":"R² = 0,6502"}}},
 {"data":{"values":[{}]},"mark":{"type":"text","font":"Liberation Serif","fontSize":22,"align":"left","baseline":"middle","color":"#000"},"encoding":{"x":{"datum":620,"type":"quantitative","axis":{"values":[0,100,200,300,400,500,600,700,800,900],"title":null,"zindex":1}},"y":{"datum":4.05,"type":"quantitative","axis":{"values":[0,1,2,3,4,5],"title":"C-Ak (ml/s)","zindex":1}},"text":{"value":"RMSE = 0,3913"}}}
]},
{"width":719,"height":97,"layer":[
 {"data":{"name":"bands"},"mark":{"type":"rect"},"encoding":{"x":{"field":"t0","type":"quantitative","scale":{"domain":[0,900],"nice":false},"axis":{"values":[0,100,200,300,400,500,600,700,800,900],"title":null,"zindex":1}},"x2":{"field":"t1"},"color":{"field":"m","type":"nominal","scale":{"domain":["cr","ac","pa","de"],"range":["#dcfdfd","#e2f8dc","#fce0e0","#fdfde0"]},"legend":null}}},
 {"data":{"name":"mod"},"mark":{"type":"line","color":"#0000ff","strokeWidth":1.2},"encoding":{"x":{"field":"t","type":"quantitative","axis":{"title":null,"zindex":1}},"y":{"field":"cb","type":"quantitative","scale":{"domain":[0,5],"nice":false},"axis":{"values":[0,1,2,3,4,5],"title":"C-CB (ml/s)","zindex":1}}}},
 {"data":{"values":[{}]},"mark":{"type":"text","font":"Liberation Serif","fontSize":22,"align":"left","baseline":"middle","color":"#000"},"encoding":{"x":{"datum":42,"type":"quantitative","axis":{"values":[0,100,200,300,400,500,600,700,800,900],"title":null,"zindex":1}},"y":{"datum":4.05,"type":"quantitative","axis":{"values":[0,1,2,3,4,5],"title":"C-CB (ml/s)","zindex":1}},"text":{"value":"R² = 0,6482"}}},
 {"data":{"values":[{}]},"mark":{"type":"text","font":"Liberation Serif","fontSize":22,"align":"left","baseline":"middle","color":"#000"},"encoding":{"x":{"datum":620,"type":"quantitative","axis":{"values":[0,100,200,300,400,500,600,700,800,900],"title":null,"zindex":1}},"y":{"datum":4.05,"type":"quantitative","axis":{"values":[0,1,2,3,4,5],"title":"C-CB (ml/s)","zindex":1}},"text":{"value":"RMSE = 0,3910"}}}
]},
{"width":719,"height":97,"layer":[
 {"data":{"name":"bands"},"mark":{"type":"rect"},"encoding":{"x":{"field":"t0","type":"quantitative","scale":{"domain":[0,900],"nice":false},"axis":{"values":[0,100,200,300,400,500,600,700,800,900],"title":null,"zindex":1}},"x2":{"field":"t1"},"color":{"field":"m","type":"nominal","scale":{"domain":["cr","ac","pa","de"],"range":["#dcfdfd","#e2f8dc","#fce0e0","#fdfde0"]},"legend":null}}},
 {"data":{"name":"mod"},"mark":{"type":"line","color":"#ff0000","strokeWidth":1.2},"encoding":{"x":{"field":"t","type":"quantitative","axis":{"title":null,"zindex":1}},"y":{"field":"cc","type":"quantitative","scale":{"domain":[0,5],"nice":false},"axis":{"values":[0,1,2,3,4,5],"title":"C-CC (ml/s)","zindex":1}}}},
 {"data":{"values":[{}]},"mark":{"type":"text","font":"Liberation Serif","fontSize":22,"align":"left","baseline":"middle","color":"#000"},"encoding":{"x":{"datum":42,"type":"quantitative","axis":{"values":[0,100,200,300,400,500,600,700,800,900],"title":null,"zindex":1}},"y":{"datum":4.05,"type":"quantitative","axis":{"values":[0,1,2,3,4,5],"title":"C-CC (ml/s)","zindex":1}},"text":{"value":"R² = 0,6479"}}},
 {"data":{"values":[{}]},"mark":{"type":"text","font":"Liberation Serif","fontSize":22,"align":"left","baseline":"middle","color":"#000"},"encoding":{"x":{"datum":620,"type":"quantitative","axis":{"values":[0,100,200,300,400,500,600,700,800,900],"title":null,"zindex":1}},"y":{"datum":4.05,"type":"quantitative","axis":{"values":[0,1,2,3,4,5],"title":"C-CC (ml/s)","zindex":1}},"text":{"value":"RMSE = 0,3948"}}}
]},
{"width":719,"height":97,"layer":[
 {"data":{"name":"bands"},"mark":{"type":"rect"},"encoding":{"x":{"field":"t0","type":"quantitative","scale":{"domain":[0,900],"nice":false},"axis":{"values":[0,100,200,300,400,500,600,700,800,900],"title":null,"zindex":1}},"x2":{"field":"t1"},"color":{"field":"m","type":"nominal","scale":{"domain":["cr","ac","pa","de"],"range":["#dcfdfd","#e2f8dc","#fce0e0","#fdfde0"]},"legend":null}}},
 {"data":{"name":"mod"},"mark":{"type":"line","color":"#00ffff","strokeWidth":1.2},"encoding":{"x":{"field":"t","type":"quantitative","axis":{"title":null,"zindex":1}},"y":{"field":"pdc","type":"quantitative","scale":{"domain":[0,5],"nice":false},"axis":{"values":[0,1,2,3,4,5],"title":"C-PdC (ml/s)","zindex":1}}}},
 {"data":{"values":[{}]},"mark":{"type":"text","font":"Liberation Serif","fontSize":22,"align":"left","baseline":"middle","color":"#000"},"encoding":{"x":{"datum":42,"type":"quantitative","axis":{"values":[0,100,200,300,400,500,600,700,800,900],"title":null,"zindex":1}},"y":{"datum":4.05,"type":"quantitative","axis":{"values":[0,1,2,3,4,5],"title":"C-PdC (ml/s)","zindex":1}},"text":{"value":"R² = 0,6533"}}},
 {"data":{"values":[{}]},"mark":{"type":"text","font":"Liberation Serif","fontSize":22,"align":"left","baseline":"middle","color":"#000"},"encoding":{"x":{"datum":620,"type":"quantitative","axis":{"values":[0,100,200,300,400,500,600,700,800,900],"title":null,"zindex":1}},"y":{"datum":4.05,"type":"quantitative","axis":{"values":[0,1,2,3,4,5],"title":"C-PdC (ml/s)","zindex":1}},"text":{"value":"RMSE = 0,3810"}}}
]},
{"width":719,"height":97,"layer":[
 {"data":{"name":"bands"},"mark":{"type":"rect"},"encoding":{"x":{"field":"t0","type":"quantitative","scale":{"domain":[0,900],"nice":false},"axis":{"values":[0,100,200,300,400,500,600,700,800,900],"title":"Tempo (s)","zindex":1}},"x2":{"field":"t1"},"color":{"field":"m","type":"nominal","scale":{"domain":["cr","ac","pa","de"],"range":["#dcfdfd","#e2f8dc","#fce0e0","#fdfde0"]},"legend":null}}},
 {"data":{"name":"mod"},"mark":{"type":"line","color":"#00ff00","strokeWidth":1.2},"encoding":{"x":{"field":"t","type":"quantitative","axis":{"title":"Tempo (s)","zindex":1}},"y":{"field":"pot","type":"quantitative","scale":{"domain":[0,5],"nice":false},"axis":{"values":[0,1,2,3,4,5],"title":"C-POT (ml/s)","zindex":1}}}},
 {"data":{"values":[{}]},"mark":{"type":"text","font":"Liberation Serif","fontSize":22,"align":"left","baseline":"middle","color":"#000"},"encoding":{"x":{"datum":42,"type":"quantitative","axis":{"values":[0,100,200,300,400,500,600,700,800,900],"title":"Tempo (s)","zindex":1}},"y":{"datum":4.05,"type":"quantitative","axis":{"values":[0,1,2,3,4,5],"title":"C-POT (ml/s)","zindex":1}},"text":{"value":"R² = 0,6801"}}},
 {"data":{"values":[{}]},"mark":{"type":"text","font":"Liberation Serif","fontSize":22,"align":"left","baseline":"middle","color":"#000"},"encoding":{"x":{"datum":620,"type":"quantitative","axis":{"values":[0,100,200,300,400,500,600,700,800,900],"title":"Tempo (s)","zindex":1}},"y":{"datum":4.05,"type":"quantitative","axis":{"values":[0,1,2,3,4,5],"title":"C-POT (ml/s)","zindex":1}},"text":{"value":"RMSE = 0,4011"}}}
]}
]
}
